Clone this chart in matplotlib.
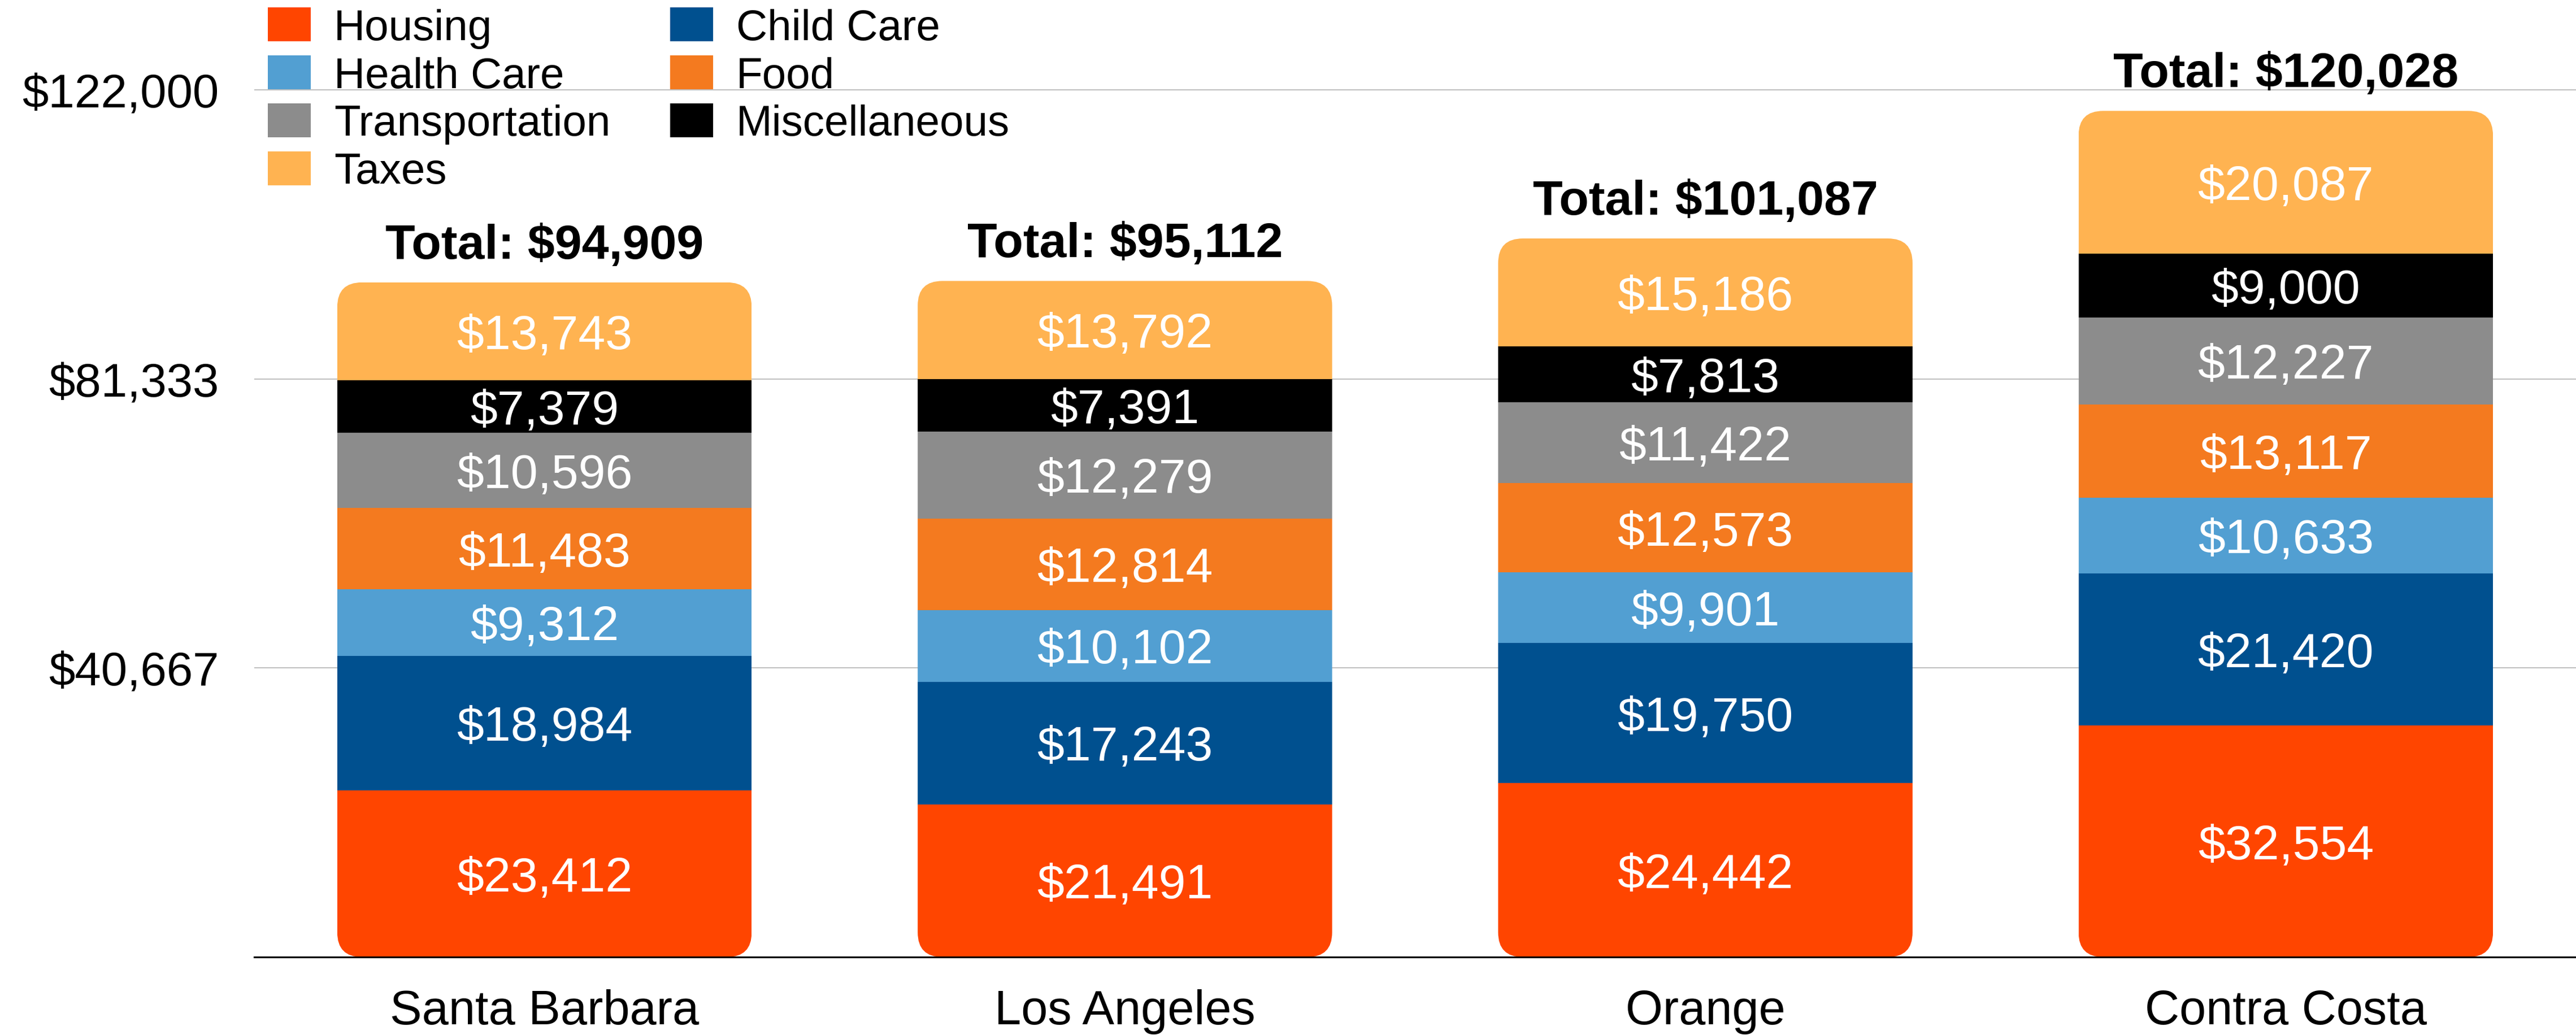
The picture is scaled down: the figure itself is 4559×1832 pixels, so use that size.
import matplotlib.pyplot as plt
from matplotlib.patches import FancyBboxPatch
import numpy as np

plt.rcParams['font.family'] = ['Liberation Sans', 'DejaVu Sans']

# data
counties = ['Santa Barbara', 'Los Angeles', 'Orange', 'Contra Costa']
categories = ['Housing', 'Child Care', 'Health Care', 'Food',
              'Transportation', 'Miscellaneous', 'Taxes']
housing = [23412, 21491, 24442, 32554]
child_care = [18984, 17243, 19750, 21420]
health_care = [9312, 10102, 9901, 10633]
food = [11483, 12814, 12573, 13117]
transportation = [10596, 12279, 11422, 12227]
misc = [7379, 7391, 7813, 9000]
taxes = [13743, 13792, 15186, 20087]
totals = [94909, 95112, 101087, 120028]
yticks = [40667, 81333, 122000]

colors = ['#FF4500', '#00508F', '#529FD2', '#F47A1F', '#8C8C8C', '#000000', '#FFB351']
series = [housing, child_care, health_care, food, transportation, misc, taxes]

W, H = 4559, 1833
fig = plt.figure(figsize=(W / 100, H / 100), dpi=100)
ax = fig.add_axes([450 / W, 138 / H, (W - 450) / W, 1695 / H])

x = np.arange(len(counties))
w = 0.714
ax.set_xlim(-0.5, 3.5)
ax.set_ylim(0, 134717)

# rounded outline for each stacked bar, used as clip path
stack_tops = np.sum(series, axis=0)
clips = []
for xi, top in zip(x, stack_tops):
    clips.append(FancyBboxPatch((xi - w / 2, 0), w, top,
                                boxstyle='round,pad=0,rounding_size=0.0425',
                                mutation_aspect=81560, transform=ax.transData))

bottom = np.zeros(len(counties))
for vals, name, c in zip(series, categories, colors):
    bars = ax.bar(x, vals, w, bottom=bottom, color=c, label=name, linewidth=0, zorder=2)
    for b, clip in zip(bars, clips):
        b.set_clip_path(clip)
    for xi, v, b0 in zip(x, vals, bottom):
        ax.annotate(f'${v:,}', xy=(xi, b0 + v / 2), xytext=(0, -6),
                    textcoords='offset points', ha='center', va='center',
                    color='white', fontsize=62, zorder=3)
    bottom += np.array(vals)

for xi, top, t in zip(x, stack_tops, totals):
    ax.annotate(f'Total: ${t:,}', xy=(xi, top), xytext=(0, 31),
                textcoords='offset points', ha='center', va='baseline',
                fontsize=62, fontweight='bold')

ax.set_yticks(yticks, labels=[f'${v:,}' for v in yticks])
ax.set_xticks(x, labels=counties)
ax.tick_params(axis='y', length=0, pad=45, labelsize=60)
ax.tick_params(axis='x', length=0, pad=40, labelsize=61)
ax.yaxis.grid(True, color='#c0c0c0', lw=1.5)
ax.set_axisbelow(True)
for s in ['left', 'right', 'top']:
    ax.spines[s].set_visible(False)
ax.spines['bottom'].set_linewidth(2.2)
ax.spines['bottom'].set_zorder(4)

h, l = ax.get_legend_handles_labels()
order = [0, 2, 4, 6, 1, 3, 5]
fig.legend([h[i] for i in order], [l[i] for i in order],
           loc='upper left', bbox_to_anchor=(474 / W, 1 - 14 / H), ncol=2,
           frameon=False, fontsize=55, handlelength=1.0, handleheight=0.84,
           handletextpad=0.53, labelspacing=0.16, columnspacing=1.38,
           borderpad=0, borderaxespad=0)

fig.savefig('out.png', dpi=100)
